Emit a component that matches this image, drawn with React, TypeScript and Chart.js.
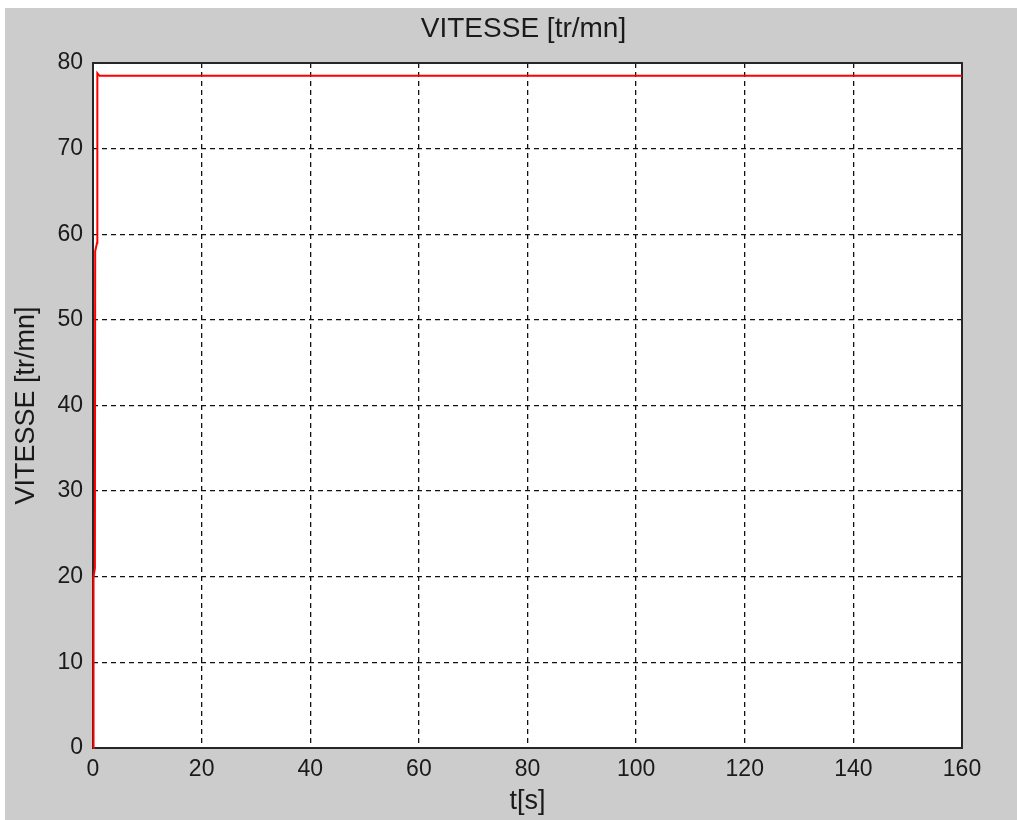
import React, { useEffect, useRef } from "react";
import { Chart, registerables } from "chart.js";

Chart.register(...registerables);

const timeValues = [0, 0.1, 0.35, 0.4, 0.75, 0.8, 1.2, 160];
const speedValues = [0, 20, 21, 58, 59, 78.8, 78.5, 78.5];
const xTicks = [0, 20, 40, 60, 80, 100, 120, 140, 160];
const yTicks = [0, 10, 20, 30, 40, 50, 60, 70, 80];
const titleText = "VITESSE [tr/mn]";
const yLabel = "VITESSE [tr/mn]";
const xLabel = "t[s]";

const FONT = "'Liberation Sans', Arial, sans-serif";

const W = 1012;
const H = 812;
const AREA = { left: 88, top: 55, right: 957, bottom: 740 };

export default function App() {
  const ref = useRef<HTMLCanvasElement | null>(null);

  useEffect(() => {
    const canvas = ref.current;
    if (!canvas) return;

    const boxPlugin = {
      id: "boxPlugin",
      beforeDraw(chart: any) {
        const { ctx, chartArea: a } = chart;
        ctx.save();
        ctx.fillStyle = "#ffffff";
        ctx.fillRect(a.left, a.top, a.right - a.left, a.bottom - a.top);
        ctx.restore();
      },
      beforeDatasetsDraw(chart: any) {
        const { ctx, chartArea: a } = chart;
        ctx.save();
        ctx.strokeStyle = "#262626";
        ctx.lineWidth = 2;
        ctx.strokeRect(a.left, a.top, a.right - a.left, a.bottom - a.top);
        ctx.restore();
      },
      afterDraw(chart: any) {
        const { ctx, chartArea: a } = chart;
        ctx.save();
        ctx.fillStyle = "#1a1a1a";
        ctx.textAlign = "center";
        ctx.textBaseline = "middle";
        ctx.font = `28px ${FONT}`;
        ctx.fillText(titleText, (a.left + a.right) / 2 - 4, 21);
        ctx.font = `27px ${FONT}`;
        ctx.fillText(xLabel, (a.left + a.right) / 2, 794);
        ctx.translate(22, (a.top + a.bottom) / 2);
        ctx.rotate(-Math.PI / 2);
        ctx.fillText(yLabel, 0, 0);
        ctx.restore();
      },
    };

    const chart = new Chart(canvas, {
      type: "line",
      data: {
        datasets: [
          {
            data: timeValues.map((t, i) => ({ x: t, y: speedValues[i] })),
            borderColor: "#ff0000",
            borderWidth: 2,
            pointRadius: 0,
            tension: 0,
            fill: false,
            clip: 3,
          },
        ],
      },
      options: {
        animation: false,
        responsive: false,
        maintainAspectRatio: false,
        layout: {
          padding: {
            left: 0,
            top: AREA.top,
            right: W - AREA.right,
            bottom: 0,
          },
        },
        plugins: {
          legend: { display: false },
          title: { display: false },
          tooltip: { enabled: false },
        },
        scales: {
          x: {
            type: "linear",
            min: 0,
            max: 160,
            afterFit(scale: any) {
              scale.height = H - AREA.bottom;
            },
            afterBuildTicks(scale: any) {
              scale.ticks = xTicks.map((v) => ({ value: v }));
            },
            grid: {
              color: "#111111",
              lineWidth: 1.3,
              drawTicks: false,
            },
            border: { display: false, dash: [5, 4] },
            ticks: {
              padding: 8,
              color: "#1a1a1a",
              font: { family: FONT, size: 23 },
              maxRotation: 0,
              autoSkip: false,
            },
          },
          y: {
            type: "linear",
            min: 0,
            max: 80,
            afterFit(scale: any) {
              scale.width = AREA.left;
            },
            afterBuildTicks(scale: any) {
              scale.ticks = yTicks.map((v) => ({ value: v }));
            },
            grid: {
              color: "#111111",
              lineWidth: 1.3,
              drawTicks: false,
            },
            border: { display: false, dash: [5, 4] },
            ticks: {
              padding: 10,
              color: "#1a1a1a",
              font: { family: FONT, size: 23 },
              autoSkip: false,
            },
          },
        },
      },
      plugins: [boxPlugin],
    });

    return () => chart.destroy();
  }, []);

  return (
    <div
      style={{
        position: "fixed",
        left: 0,
        top: 0,
        width: 1017,
        height: 820,
        background: "#ffffff",
      }}
    >
      <div
        style={{
          position: "absolute",
          left: 5,
          top: 8,
          width: W,
          height: H,
          background: "#cccccc",
        }}
      >
        <canvas ref={ref} width={W} height={H} style={{ width: W, height: H, display: "block" }} />
      </div>
    </div>
  );
}
